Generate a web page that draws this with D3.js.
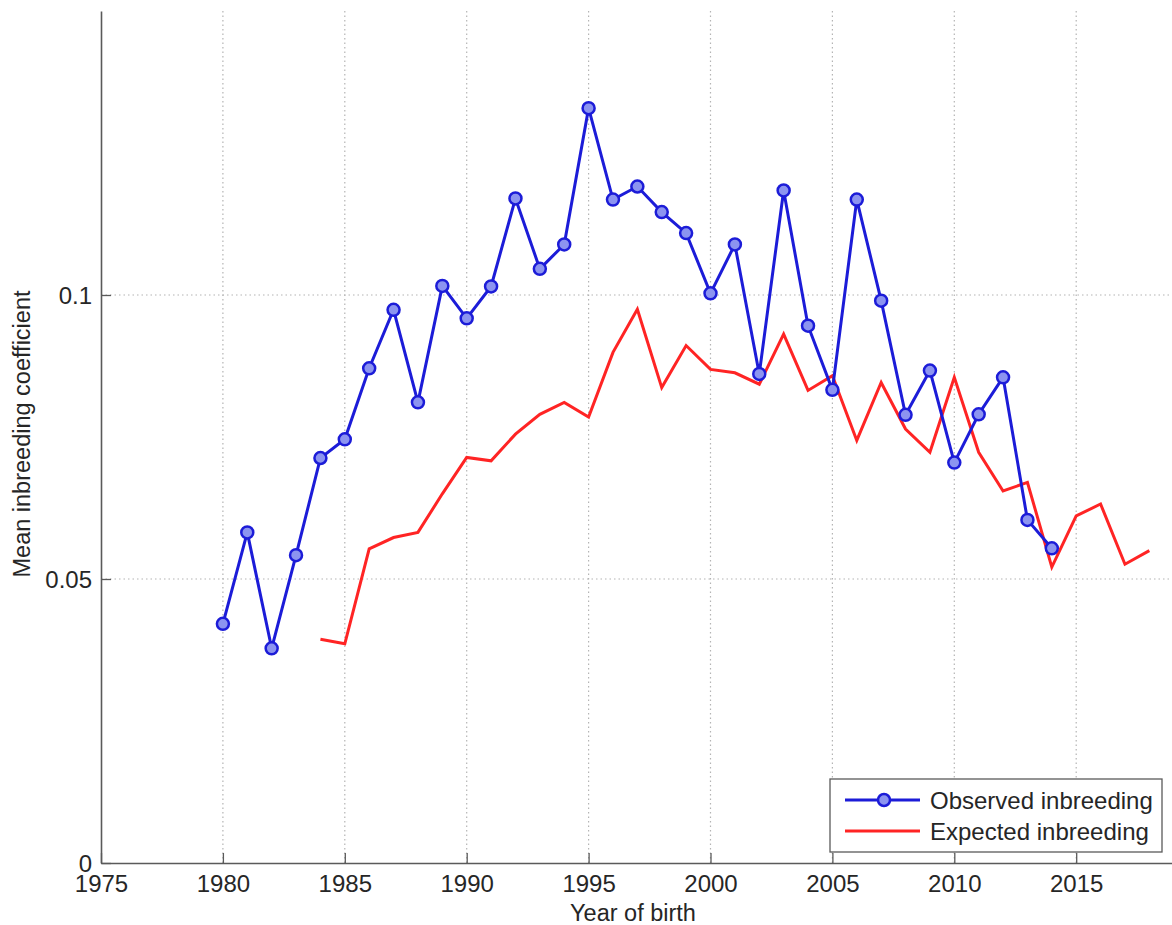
<!DOCTYPE html>
<html>
<head>
<meta charset="utf-8">
<script src="https://cdn.jsdelivr.net/npm/d3@7"></script>
<style>
  body { margin: 0; background: #fff; }
  text { font-family: "Liberation Sans", Arial, sans-serif; fill: #262626; }
</style>
</head>
<body>
<svg width="1172" height="925"></svg>
<script>
// observed inbreeding, 1980-2014
var obsYears = d3.range(1980, 2015);
var obsValues = [0.0421, 0.0582, 0.0378, 0.0542, 0.0713, 0.0746, 0.0871, 0.0974, 0.0811, 0.1016,
                 0.0959, 0.1015, 0.1170, 0.1046, 0.1089, 0.1329, 0.1168, 0.1191, 0.1146, 0.1109,
                 0.1003, 0.1089, 0.0861, 0.1184, 0.0946, 0.0833, 0.1168, 0.0990, 0.0789, 0.0867,
                 0.0705, 0.0790, 0.0855, 0.0604, 0.0554];

// expected inbreeding, 1984-2018
var expYears = d3.range(1984, 2019);
var expValues = [0.0394, 0.0386, 0.0553, 0.0573, 0.0582, 0.0650, 0.0714, 0.0708, 0.0755, 0.0790,
                 0.0811, 0.0785, 0.0899, 0.0975, 0.0837, 0.0911, 0.0869, 0.0863, 0.0843, 0.0931,
                 0.0832, 0.0858, 0.0744, 0.0846, 0.0764, 0.0723, 0.0855, 0.0723, 0.0655, 0.0670,
                 0.0521, 0.0611, 0.0632, 0.0526, 0.0550];

var xTicks = d3.range(1975, 2016, 5);
var yTicks = [0, 0.05, 0.1];
var legendLabels = ["Observed inbreeding", "Expected inbreeding"];

var blue = "#1c1cd8", markerFill = "#8c94f0", red = "#ff2424";

var svg = d3.select("svg");
var plotLeft = 101, plotBottom = 863, plotTop = 11;

var x = d3.scaleLinear().domain([1975, 2019]).range([plotLeft, plotLeft + 44 * 24.38]);
var y = d3.scaleLinear().domain([0, 0.15]).range([plotBottom, plotTop]);

// dotted grid
var grid = svg.append("g").attr("stroke", "#b4b4b4").attr("stroke-width", 1.2)
  .attr("stroke-dasharray", "1.5,3");
grid.selectAll(".gx").data(xTicks.slice(1)).enter().append("line")
  .attr("x1", d => x(d)).attr("x2", d => x(d)).attr("y1", plotTop).attr("y2", plotBottom);
grid.selectAll(".gy").data(yTicks.slice(1)).enter().append("line")
  .attr("x1", plotLeft).attr("x2", 1172).attr("y1", d => y(d)).attr("y2", d => y(d));

// axes, ticks pointing inward
var xAxis = svg.append("g").attr("transform", "translate(0," + plotBottom + ")")
  .call(d3.axisBottom(x).tickValues(xTicks).tickFormat(d3.format("d")).tickSizeOuter(0).tickSizeInner(-10).tickPadding(12));
var yAxis = svg.append("g").attr("transform", "translate(" + plotLeft + ",0)")
  .call(d3.axisLeft(y).tickValues(yTicks).tickFormat(d => d === 0 ? "0" : String(d)).tickSizeOuter(0).tickSizeInner(-10).tickPadding(9));

[xAxis, yAxis].forEach(function(g) {
  g.select(".domain").attr("stroke", "#5a5a5a").attr("stroke-width", 1.6);
  g.selectAll(".tick line").attr("stroke", "#5a5a5a").attr("stroke-width", 1.3);
  g.selectAll(".tick text").attr("font-size", 24).attr("fill", "#262626")
    .style("font-family", "'Liberation Sans', Arial, sans-serif");
});
yAxis.selectAll(".tick text").attr("dy", "0.36em");

// axis titles
svg.append("text").attr("x", 633).attr("y", 921).attr("text-anchor", "middle")
  .attr("font-size", 23.5).text("Year of birth");
svg.append("text").attr("transform", "translate(30,434) rotate(-90)").attr("text-anchor", "middle")
  .attr("font-size", 23.5).text("Mean inbreeding coefficient");

var line = d3.line().x(d => x(d[0])).y(d => y(d[1]));

var expData = expYears.map((yr, i) => [yr, expValues[i]]);
var obsData = obsYears.map((yr, i) => [yr, obsValues[i]]);

svg.append("path").datum(expData).attr("d", line).attr("fill", "none")
  .attr("stroke", red).attr("stroke-width", 3).attr("stroke-linejoin", "miter");

svg.append("path").datum(obsData).attr("d", line).attr("fill", "none")
  .attr("stroke", blue).attr("stroke-width", 3);
svg.selectAll(".obs").data(obsData).enter().append("circle")
  .attr("cx", d => x(d[0])).attr("cy", d => y(d[1])).attr("r", 6)
  .attr("fill", markerFill).attr("stroke", blue).attr("stroke-width", 2.5);

// legend
var lg = svg.append("g").attr("transform", "translate(830,779)");
lg.append("rect").attr("width", 332).attr("height", 73).attr("fill", "#fff")
  .attr("stroke", "#5a5a5a").attr("stroke-width", 1.3);
var rows = lg.selectAll(".row").data(legendLabels).enter().append("g")
  .attr("transform", (d, i) => "translate(0," + (21 + i * 31) + ")");
rows.append("line").attr("x1", 15).attr("x2", 90)
  .attr("stroke", (d, i) => i === 0 ? blue : red).attr("stroke-width", 3);
rows.filter((d, i) => i === 0).append("circle").attr("cx", 54).attr("r", 6)
  .attr("fill", markerFill).attr("stroke", blue).attr("stroke-width", 2.5);
rows.append("text").attr("x", 100).attr("dy", "0.36em").attr("font-size", 24).text(d => d);
</script>
</body>
</html>
